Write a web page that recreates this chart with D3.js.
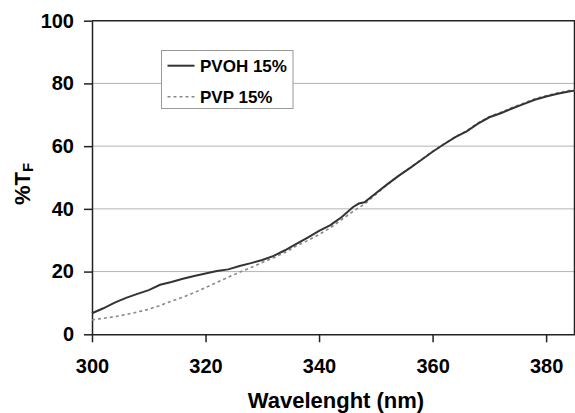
<!DOCTYPE html>
<html>
<head>
<meta charset="utf-8">
<script src="https://cdn.jsdelivr.net/npm/d3@7"></script>
<style>
  body { margin: 0; background: #fff; }
  svg { display: block; font-family: "Liberation Sans", Arial, sans-serif; }
</style>
</head>
<body>
<svg id="chart" width="575" height="413"></svg>
<script>
// wavelength (nm)
const wavelength = [300, 302, 304, 306, 308, 310, 312, 314, 316, 318, 320, 322, 324, 326, 328, 330,
  332, 334, 336, 338, 340, 342, 344, 346, 347, 348, 350, 352, 354, 356, 358, 360, 362, 364, 366,
  368, 370, 372, 374, 376, 378, 380, 382, 384, 385];

// %TF PVOH 15%
const pvoh = [6.7, 8.3, 10.1, 11.6, 12.9, 14.1, 15.8, 16.7, 17.7, 18.6, 19.4, 20.2, 20.7, 21.8, 22.7, 23.7,
  25.0, 26.8, 28.8, 30.8, 33.0, 34.8, 37.4, 40.6, 41.7, 42.1, 45.0, 47.8, 50.5, 53.0, 55.6, 58.2, 60.6, 62.9, 64.7,
  67.2, 69.2, 70.5, 72.0, 73.4, 74.8, 75.8, 76.7, 77.4, 77.7];

// %TF PVP 15%
const pvp = [4.6, 5.1, 5.6, 6.3, 7.1, 8.0, 9.2, 10.6, 11.8, 13.3, 14.9, 16.6, 18.2, 19.8, 21.3, 22.9,
  24.4, 26.1, 28.2, 29.9, 31.8, 34.0, 36.6, 39.2, 40.4, 41.5, 44.6, 47.7, 50.5, 53.1, 55.7, 58.3, 60.7, 63.0, 64.9,
  67.4, 69.4, 70.8, 72.3, 73.7, 75.1, 76.1, 77.0, 77.7, 78.0];

const xTicks = [300, 320, 340, 360, 380];
const yTicks = [0, 20, 40, 60, 80, 100];

const series = [
  { name: "PVOH 15%", values: pvoh, color: "#333", width: 2, dash: null },
  { name: "PVP 15%", values: pvp, color: "#888", width: 1.6, dash: "3,3" }
];

const svg = d3.select("#chart");
const mLeft = 92, mRight = 574.5, mTop = 20.7, mBottom = 334.3;

const x = d3.scaleLinear().domain([300, 385]).range([mLeft, mRight]);
const y = d3.scaleLinear().domain([0, 100]).range([mBottom, mTop]);

// grid
svg.append("g")
  .selectAll("line")
  .data(yTicks.filter(d => d > 0 && d < 100))
  .enter().append("line")
  .attr("x1", mLeft).attr("x2", mRight)
  .attr("y1", d => y(d)).attr("y2", d => y(d))
  .attr("stroke", "#b4b4b4").attr("stroke-width", 1);

// top / right frame
svg.append("path")
  .attr("d", `M${mLeft},${mTop}H${mRight}V${mBottom}`)
  .attr("fill", "none").attr("stroke", "#222").attr("stroke-width", 1.5);

// axes
const yAxis = svg.append("g")
  .attr("transform", `translate(${mLeft},0)`)
  .call(d3.axisLeft(y).tickValues(yTicks).tickSize(8).tickPadding(10).tickSizeOuter(0));
const xAxis = svg.append("g")
  .attr("transform", `translate(0,${mBottom})`)
  .call(d3.axisBottom(x).tickValues(xTicks).tickSize(8).tickPadding(17).tickSizeOuter(0));

[yAxis, xAxis].forEach(a => {
  a.select(".domain").attr("stroke", "#222").attr("stroke-width", 1.5);
  a.selectAll(".tick line").attr("stroke", "#222").attr("stroke-width", 1.5);
  a.selectAll(".tick text")
    .style("font-size", "20px").style("font-weight", "bold").attr("fill", "#000");
});

// lines
const line = vals => d3.line()
  .x((d, i) => x(wavelength[i]))
  .y(d => y(d))(vals);

series.slice().reverse().forEach(s => {
  svg.append("path")
    .attr("d", line(s.values))
    .attr("fill", "none")
    .attr("stroke", s.color)
    .attr("stroke-width", s.width)
    .attr("stroke-dasharray", s.dash);
});

// axis titles
svg.append("text")
  .attr("x", 336).attr("y", 407.5)
  .attr("text-anchor", "middle")
  .style("font-size", "22px").style("font-weight", "bold")
  .text("Wavelenght (nm)");

const yt = svg.append("text")
  .attr("transform", "translate(29.5,184) rotate(-90)")
  .attr("text-anchor", "middle")
  .style("font-size", "22px").style("font-weight", "bold");
yt.append("tspan").text("%T");
yt.append("tspan").attr("dy", 3).style("font-size", "15px").text("F");

// legend
const lg = svg.append("g");
lg.append("rect")
  .attr("x", 161.5).attr("y", 50.5).attr("width", 131.5).attr("height", 58)
  .attr("fill", "#fff").attr("stroke", "#999").attr("stroke-width", 1);
series.forEach((s, i) => {
  const yy = 65.7 + i * 31;
  lg.append("line")
    .attr("x1", 167.5).attr("x2", 194.5).attr("y1", yy).attr("y2", yy)
    .attr("stroke", s.color).attr("stroke-width", s.width)
    .attr("stroke-dasharray", s.dash);
  lg.append("text")
    .attr("x", 200).attr("y", yy + 6.5)
    .style("font-size", "17px").style("font-weight", "bold")
    .text(s.name);
});
</script>
</body>
</html>
